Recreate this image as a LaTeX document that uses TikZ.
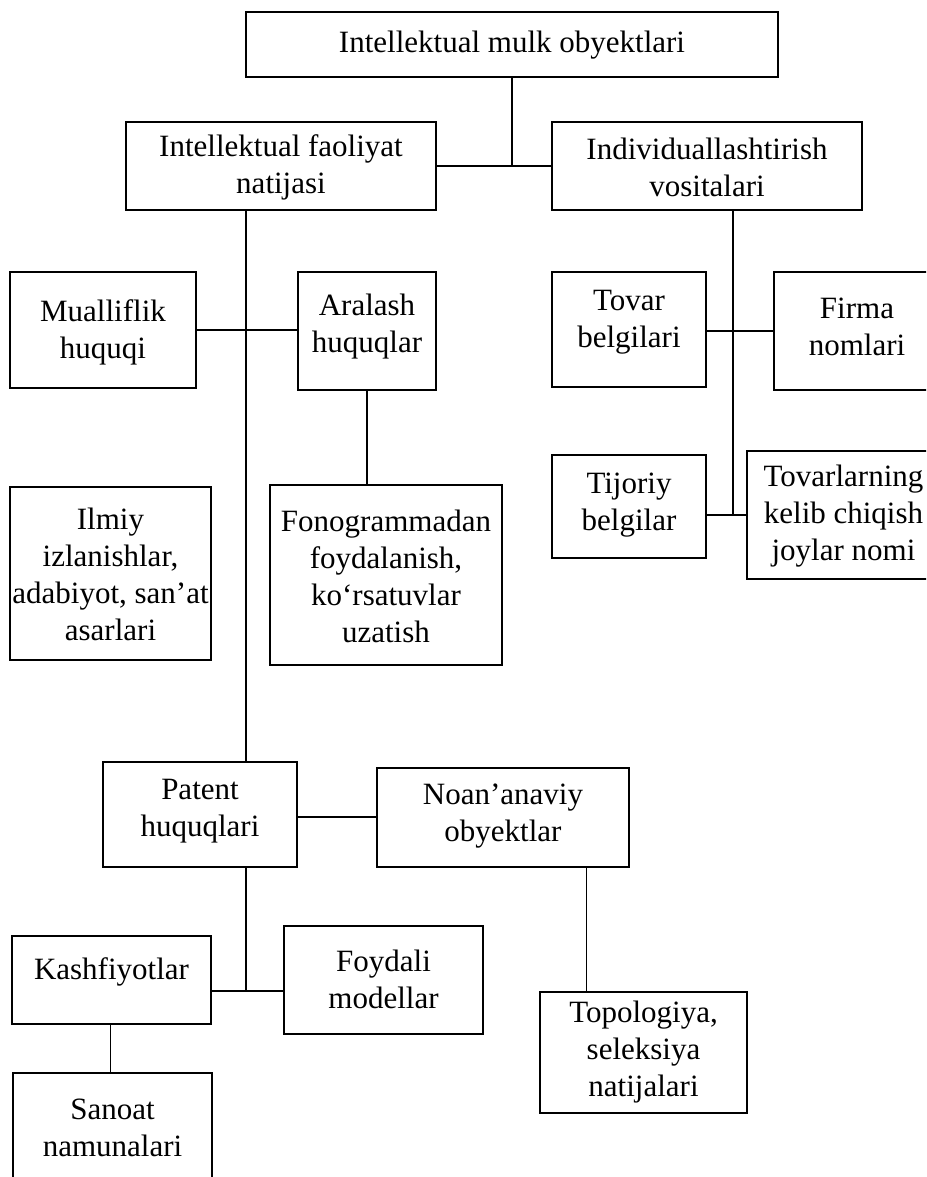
\documentclass[tikz,border=0pt]{standalone}
\usepackage{fontspec}
\setmainfont{Liberation Serif}
\usetikzlibrary{fit}
\begin{document}
\begin{tikzpicture}[x=1pt,y=-1pt,
  box/.style={draw=black, line width=1.4pt, inner sep=0pt, fill=none},
  txt/.style={inner sep=0pt, align=center, font=\fontsize{31}{37}\selectfont},
  link/.style={draw=black, line width=1.2pt}]
\clip (0,0) rectangle (926,1177);
\fill[white] (0,0) rectangle (926,1177);

% boxes: frame from two corners, text placed inside
\newcommand{\obox}[7]{%
  \node[box, fit={(#2,#3) (#4,#5)}] (#1) {};
  \node[txt] (#1-t) at ({(#2+#4)/2},{#6+2}) {#7};}

\obox{mulk}{246}{12}{778}{77}{43}{Intellektual mulk obyektlari}
\obox{faol}{126}{122}{436}{210}{165}{Intellektual faoliyat\\natijasi}
\obox{indiv}{552}{122}{862}{210}{165}{Individuallashtirish\\vositalari}

\obox{muall}{10}{272}{196}{388}{330}{Mualliflik\\huquqi}
\obox{aral}{298}{272}{436}{390}{325}{Aralash\\huquqlar}
\obox{fono}{270}{485}{502}{665}{574}{Fonogrammadan\\foydalanish,\\ko‘rsatuvlar\\uzatish}
\obox{ilmiy}{10}{487}{211}{660}{572}{Ilmiy\\izlanishlar,\\adabiyot, san’at\\asarlari}

\obox{tovar}{552}{272}{706}{387}{320}{Tovar\\belgilari}
\obox{firma}{774}{272}{940}{390}{325}{Firma\\nomlari}
\obox{tijor}{552}{455}{706}{558}{503}{Tijoriy\\belgilar}
\obox{joy}{747}{451}{940}{579}{514}{Tovarlarning\\kelib chiqish\\joylar nomi}

\obox{patent}{103}{762}{297}{867}{809}{Patent\\huquqlari}
\obox{noan}{377}{768}{629}{867}{814}{Noan’anaviy\\obyektlar}
\obox{kashf}{12}{936}{211}{1024}{970}{Kashfiyotlar}
\obox{foyd}{284}{926}{483}{1034}{977}{Foydali\\modellar}
\obox{sanoat}{13}{1073}{212}{1200}{1126}{Sanoat\\namunalari}
\obox{topo}{540}{992}{747}{1113}{1050}{Topologiya,\\seleksiya\\natijalari}

% junction points
\coordinate (j1) at (mulk.south |- 0,166);
\coordinate (jl) at (246,330);
\coordinate (jr) at (733,331);
\coordinate (jt) at (733,515);
\coordinate (jp) at (246,991);

% connectors
\draw[link] (mulk.south) -- (j1);
\draw[link] (faol.east |- j1) -- (indiv.west |- j1);
\draw[link] (faol.south -| jl) -- (patent.north -| jl);
\draw[link] (muall.east |- jl) -- (aral.west |- jl);
\draw[link] (aral.south) -- (fono.north -| aral.south);
\draw[link] (indiv.south -| jr) -- (jt);
\draw[link] (tovar.east |- jr) -- (firma.west |- jr);
\draw[link] (tijor.east |- jt) -- (joy.west |- jt);
\draw[link] (patent.east |- 0,817) -- (noan.west |- 0,817);
\draw[link] (patent.south -| jp) -- (jp);
\draw[link] (kashf.east |- jp) -- (foyd.west |- jp);
\draw[link] (kashf.south -| 110.5,0) -- (sanoat.north -| 110.5,0);
\draw[link] (noan.south -| 586.5,0) -- (topo.north -| 586.5,0);
\end{tikzpicture}
\end{document}
